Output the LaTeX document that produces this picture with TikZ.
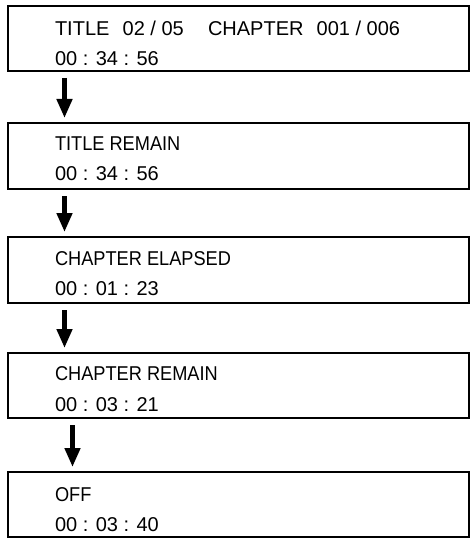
\documentclass[tikz,border=0pt]{standalone}
\usepackage{fontspec}
\setmainfont{Liberation Sans}
\newfontfamily\narrowf[FakeStretch=0.91]{Liberation Sans}
\usetikzlibrary{arrows.meta}
\tikzset{
  box/.style={draw=black, line width=2.6pt, rectangle, anchor=north west, minimum width=461pt, inner sep=0pt, outer sep=0pt},
  txt/.style={anchor=base west, inner sep=0pt, outer sep=0pt, font=\fontsize{20}{24}\selectfont},
  ntxt/.style={txt, font=\fontsize{20}{24}\selectfont\narrowf},
  arr/.style={line width=4.5pt, -{Triangle[width=15pt,length=19pt]}, shorten <=7pt, shorten >=5pt}
}
\begin{document}
\begin{tikzpicture}[x=1pt,y=-1pt]
\useasboundingbox (0,0) rectangle (475,540);
\node[box, minimum height=65pt] (b1) at (8,6) {};
\node[box, minimum height=66pt] (b2) at (8,123) {};
\node[box, minimum height=66pt] (b3) at (8,237) {};
\node[box, minimum height=65pt] (b4) at (8,353) {};
\node[box, minimum height=65pt] (b5) at (8,472) {};

\node[txt] (t1a) at (55,36) {TITLE};
\node[txt] (t1b) at (122.7,36) {02 / 05};
\node[txt] (t1c) at (208,36) {CHAPTER};
\node[txt] (t1d) at (316.7,36) {001 / 006};
\node[txt] (t1e) at (55,66) {00 : 34 : 56};

\node[ntxt] (t2a) at (55,150) {TITLE REMAIN};
\node[txt] (t2b) at (55,180) {00 : 34 : 56};

\node[ntxt] (t3a) at (55,265) {CHAPTER ELAPSED};
\node[txt] (t3b) at (55,295) {00 : 01 : 23};

\node[ntxt] (t4a) at (55,380) {CHAPTER REMAIN};
\node[txt] (t4b) at (55,411) {00 : 03 : 21};

\node[ntxt] (t5a) at (55,501) {OFF};
\node[txt] (t5b) at (55,531) {00 : 03 : 40};

\coordinate (xa) at (64.5,0);
\coordinate (xb) at (72.5,0);
\draw[arr] (b1.south -| xa) -- (b2.north -| xa);
\draw[arr] (b2.south -| xa) -- (b3.north -| xa);
\draw[arr] (b3.south -| xa) -- (b4.north -| xa);
\draw[arr] (b4.south -| xb) -- (b5.north -| xb);
\end{tikzpicture}
\end{document}
